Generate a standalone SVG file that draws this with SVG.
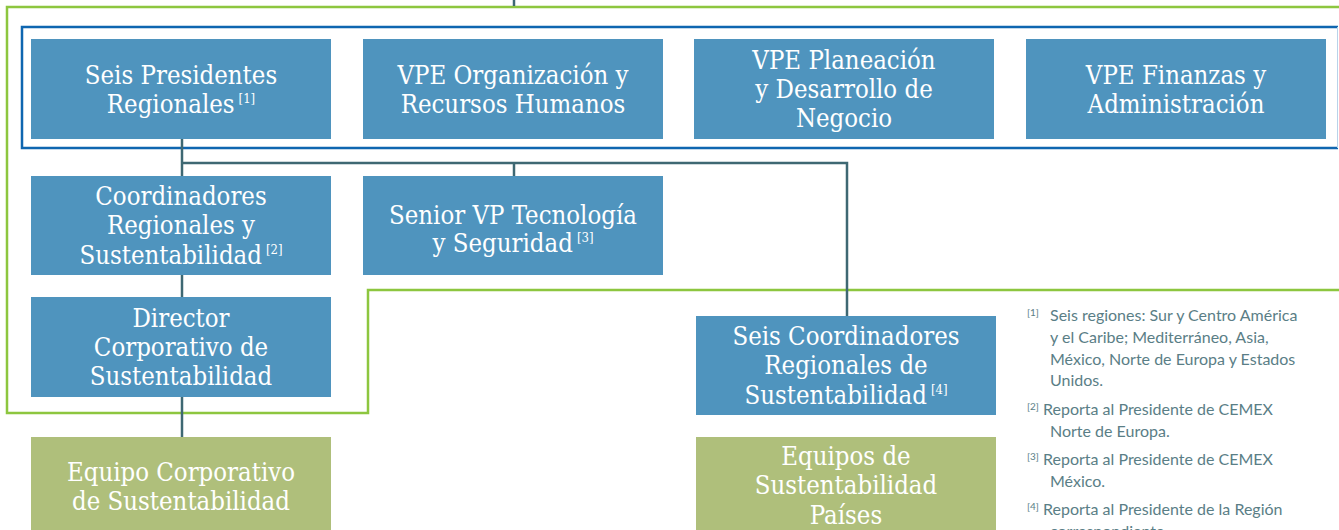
<svg xmlns="http://www.w3.org/2000/svg" width="1339" height="530" viewBox="0 0 1339 530">
<style>
.node rect{stroke:none}
.blue{fill:#4f94be}
.green{fill:#afbf7b}
.nt{font-family:"DejaVu Serif Condensed","DejaVu Serif",serif;font-stretch:condensed;font-size:25.5px;fill:#ffffff;text-anchor:middle}
.sup{font-size:13px}
.conn{fill:none;stroke:#3e6873;stroke-width:2.5}
.fn{font-family:Lato,"Liberation Sans",sans-serif;font-size:16px;fill:#5a7e86}
.fs{font-size:10px}
</style>
<rect x="0" y="0" width="1339" height="530" fill="#ffffff"/>
<g id="frames">
<path d="M1339 7 H7 V413 H368 V290 H1339" fill="none" stroke="#8dc63f" stroke-width="2.5"/>
<path d="M1338 27 H22 V148 H1338" fill="none" stroke="#0f66b0" stroke-width="2.5"/>
<path d="M1337.5 27 V148" fill="none" stroke="#b9d3ea" stroke-width="1"/>
</g>
<g id="n1" class="node"><rect class="blue" x="31" y="39" width="300" height="100"/>
<text class="nt"><tspan x="181" y="84">Seis Presidentes</tspan><tspan x="181" y="113">Regionales<tspan class="sup" dx="4" dy="-10">[1]</tspan></tspan></text></g>
<g id="n2" class="node"><rect class="blue" x="363" y="39" width="300" height="100"/>
<text class="nt"><tspan x="513" y="84">VPE Organización y</tspan><tspan x="513" y="113">Recursos Humanos</tspan></text></g>
<g id="n3" class="node"><rect class="blue" x="694" y="39" width="300" height="100"/>
<text class="nt"><tspan x="844" y="69">VPE Planeación</tspan><tspan x="844" y="98">y Desarrollo de</tspan><tspan x="844" y="127">Negocio</tspan></text></g>
<g id="n4" class="node"><rect class="blue" x="1026" y="39" width="300" height="100"/>
<text class="nt"><tspan x="1176" y="84">VPE Finanzas y</tspan><tspan x="1176" y="113">Administración</tspan></text></g>
<g id="n5" class="node"><rect class="blue" x="31" y="176" width="300" height="99"/>
<text class="nt"><tspan x="181" y="205">Coordinadores</tspan><tspan x="181" y="234">Regionales y</tspan><tspan x="181" y="264">Sustentabilidad<tspan class="sup" dx="4" dy="-10">[2]</tspan></tspan></text></g>
<g id="n6" class="node"><rect class="blue" x="363" y="176" width="300" height="99"/>
<text class="nt"><tspan x="513" y="224">Senior VP Tecnología</tspan><tspan x="513" y="252">y Seguridad<tspan class="sup" dx="4" dy="-10">[3]</tspan></tspan></text></g>
<g id="n7" class="node"><rect class="blue" x="31" y="297" width="300" height="100"/>
<text class="nt"><tspan x="181" y="327">Director</tspan><tspan x="181" y="356">Corporativo de</tspan><tspan x="181" y="385">Sustentabilidad</tspan></text></g>
<g id="n8" class="node"><rect class="green" x="31" y="437" width="300" height="93"/>
<text class="nt"><tspan x="181" y="481">Equipo Corporativo</tspan><tspan x="181" y="510">de Sustentabilidad</tspan></text></g>
<g id="n9" class="node"><rect class="blue" x="696" y="316" width="300" height="99"/>
<text class="nt"><tspan x="846" y="345">Seis Coordinadores</tspan><tspan x="846" y="374">Regionales de</tspan><tspan x="846" y="404">Sustentabilidad<tspan class="sup" dx="4" dy="-10">[4]</tspan></tspan></text></g>
<g id="n10" class="node"><rect class="green" x="696" y="437" width="300" height="93"/>
<text class="nt"><tspan x="846" y="465">Equipos de</tspan><tspan x="846" y="494">Sustentabilidad</tspan><tspan x="846" y="524">Países</tspan></text></g>
<g id="connectors">
<path class="conn" d="M514 0 V6"/>
<path class="conn" d="M182 139 V176"/>
<path class="conn" d="M182 163 H847 V316"/>
<path class="conn" d="M514 163 V176"/>
<path class="conn" d="M182 275 V297"/>
<path class="conn" d="M182 397 V437"/>
</g>
<g id="notes">
<text class="fn"><tspan class="fs" x="1027" y="316">[1]</tspan><tspan x="1050" y="321">Seis regiones: Sur y Centro América</tspan><tspan x="1050" y="343">y el Caribe; Mediterráneo, Asia,</tspan><tspan x="1050" y="365">México, Norte de Europa y Estados</tspan><tspan x="1050" y="386">Unidos.</tspan></text>
<text class="fn"><tspan class="fs" x="1027" y="410">[2]</tspan><tspan x="1043" y="415">Reporta al Presidente de CEMEX</tspan><tspan x="1050" y="437">Norte de Europa.</tspan></text>
<text class="fn"><tspan class="fs" x="1027" y="460">[3]</tspan><tspan x="1043" y="465">Reporta al Presidente de CEMEX</tspan><tspan x="1050" y="487">México.</tspan></text>
<text class="fn"><tspan class="fs" x="1027" y="510">[4]</tspan><tspan x="1043" y="515">Reporta al Presidente de la Región</tspan><tspan x="1050" y="537">correspondiente.</tspan></text>
</g>
</svg>
